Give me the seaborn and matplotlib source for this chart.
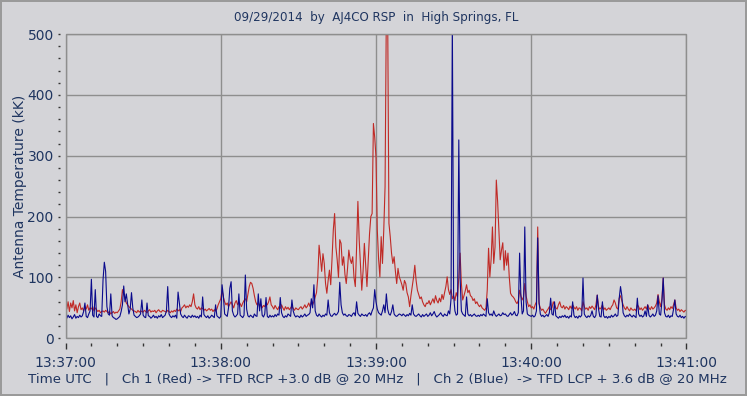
#!/usr/bin/env python3
"""
Radio Jupiter / solar burst record, AJ4CO RSP, 2014-09-29.
Two channel antenna temperature trace (RCP red, LCP blue), 13:37-13:41 UTC.
"""

import numpy as np
import pandas as pd
import matplotlib
matplotlib.use("Agg")
import matplotlib.pyplot as plt
from matplotlib.ticker import MultipleLocator, FuncFormatter
import seaborn as sns

# sample times, seconds after 13:37:00 UTC (half second steps)
t_sec = np.arange(0, 240.5, 0.5)

# Ch 1 (Red) -> TFD RCP, antenna temperature in kK
ch1_red = [
    55, 48, 60, 44, 58, 50, 62, 45, 55, 42, 52, 58, 47, 50, 45, 52, 48, 55, 46, 50,
    48, 52, 45, 50, 47, 44, 46, 42, 44, 45, 43, 46, 44, 42, 44, 40, 42, 44, 41, 43,
    42, 45, 48, 60, 80, 72, 65, 58, 55, 52, 50, 48, 46, 45, 44, 42, 46, 43, 45, 44,
    43, 46, 44, 42, 45, 47, 43, 45, 44, 46, 42, 45, 47, 44, 43, 46, 45, 44, 43, 46,
    44, 42, 45, 43, 46, 44, 48, 45, 47, 44, 50, 52, 55, 50, 53, 51, 55, 52, 60, 73,
    55, 50, 48, 52, 47, 50, 49, 46, 48, 45, 47, 49, 46, 48, 44, 47, 45, 48, 55, 60,
    65, 79, 68, 60, 55, 58, 52, 56, 60, 55, 50, 58, 62, 55, 60, 57, 52, 58, 62, 65,
    60, 72, 85, 92, 90, 82, 70, 60, 55, 58, 52, 56, 50, 54, 52, 58, 55, 60, 68, 55,
    52, 48, 54, 50, 47, 52, 49, 55, 50, 46, 52, 48, 51, 47, 50, 53, 49, 46, 50, 48,
    47, 50, 52, 48, 51, 55, 50, 53, 58, 52, 60, 55, 60, 68, 75, 100, 153, 133, 110, 139,
    123, 90, 74, 95, 112, 88, 130, 178, 205, 150, 129, 100, 162, 156, 120, 134, 105, 90, 115, 145,
    130, 123, 134, 100, 85, 150, 225, 162, 120, 79, 110, 156, 120, 85, 130, 172, 200, 205, 353, 330,
    298, 178, 130, 101, 167, 123, 178, 249, 540, 540, 189, 167, 140, 123, 134, 110, 90, 115, 101, 95,
    88, 79, 95, 90, 75, 68, 52, 70, 85, 100, 120, 95, 79, 72, 65, 68, 60, 55, 52, 58,
    57, 62, 55, 60, 65, 58, 70, 62, 58, 66, 60, 72, 64, 75, 85, 101, 80, 72, 80, 65,
    70, 62, 75, 68, 100, 140, 90, 63, 70, 78, 88, 75, 79, 70, 68, 62, 65, 57, 60, 55,
    52, 55, 50, 48, 46, 50, 80, 148, 101, 130, 183, 123, 150, 260, 225, 178, 129, 145, 157, 112,
    144, 120, 140, 101, 74, 70, 68, 65, 60, 57, 62, 79, 70, 63, 68, 90, 70, 60, 52, 55,
    50, 52, 48, 55, 60, 183, 57, 50, 46, 48, 44, 41, 45, 48, 52, 47, 50, 60, 55, 50,
    48, 55, 60, 52, 50, 54, 48, 52, 50, 47, 53, 49, 55, 51, 48, 52, 46, 50, 49, 45,
    60, 52, 48, 50, 46, 52, 49, 53, 50, 47, 55, 71, 52, 48, 50, 55, 47, 50, 46, 48,
    50, 47, 52, 55, 63, 58, 50, 48, 66, 70, 62, 55, 50, 47, 52, 48, 45, 50, 47, 46,
    48, 45, 55, 52, 47, 50, 46, 49, 52, 48, 55, 50, 47, 52, 48, 50, 53, 58, 72, 60,
    52, 65, 99, 55, 48, 46, 50, 47, 52, 49, 55, 63, 50, 46, 48, 44, 47, 45, 43, 46,
    45,
]

# Ch 2 (Blue) -> TFD LCP
ch2_blue = [
    36, 33, 38, 34, 37, 32, 35, 39, 33, 36, 34, 38, 35, 37, 44, 58, 36, 34, 40, 45,
    97, 38, 35, 80, 36, 34, 40, 37, 36, 96, 125, 110, 52, 40, 38, 73, 37, 34, 33, 31,
    32, 34, 36, 44, 55, 86, 60, 73, 57, 40, 48, 75, 50, 38, 36, 34, 35, 37, 40, 63,
    38, 35, 34, 58, 37, 36, 33, 35, 38, 34, 36, 33, 37, 35, 39, 34, 36, 38, 45, 85,
    40, 36, 34, 37, 35, 38, 33, 76, 58, 40, 36, 34, 38, 35, 33, 37, 36, 34, 38, 35,
    37, 34, 36, 33, 38, 35, 68, 39, 36, 34, 37, 33, 35, 38, 36, 34, 55, 37, 35, 33,
    36, 88, 70, 40, 38, 36, 50, 82, 93, 45, 38, 35, 37, 40, 73, 38, 36, 34, 38, 104,
    48, 37, 35, 38, 36, 34, 40, 37, 36, 73, 45, 65, 38, 35, 40, 67, 36, 34, 38, 35,
    37, 35, 39, 36, 40, 38, 67, 42, 36, 34, 37, 35, 40, 38, 36, 63, 45, 38, 35, 37,
    36, 34, 38, 35, 37, 40, 36, 38, 39, 42, 65, 50, 88, 45, 38, 36, 40, 37, 35, 38,
    36, 40, 38, 63, 42, 37, 36, 39, 41, 38, 40, 44, 92, 55, 42, 38, 40, 37, 36, 39,
    38, 36, 40, 42, 37, 60, 41, 38, 36, 40, 38, 37, 39, 36, 40, 42, 38, 45, 50, 80,
    60, 48, 42, 40, 38, 45, 55, 42, 73, 48, 40, 38, 44, 55, 40, 37, 36, 38, 40, 39,
    37, 40, 38, 36, 39, 37, 41, 38, 55, 40, 37, 36, 38, 40, 37, 35, 39, 36, 38, 40,
    36, 38, 42, 37, 40, 44, 38, 35, 37, 39, 42, 38, 36, 40, 38, 37, 45, 40, 65, 520,
    70, 45, 38, 40, 326, 100, 45, 40, 38, 36, 68, 40, 37, 39, 36, 38, 40, 37, 36, 38,
    36, 39, 37, 40, 38, 36, 65, 42, 38, 40, 37, 45, 39, 36, 38, 40, 37, 38, 42, 39,
    40, 37, 36, 39, 42, 38, 40, 44, 38, 37, 42, 140, 70, 40, 45, 183, 60, 40, 38, 37,
    36, 38, 35, 37, 45, 165, 60, 40, 36, 38, 35, 37, 39, 36, 42, 66, 40, 38, 60, 37,
    35, 33, 36, 34, 37, 35, 38, 34, 36, 33, 37, 35, 60, 38, 34, 36, 33, 37, 35, 38,
    99, 40, 36, 34, 37, 35, 38, 45, 36, 34, 38, 71, 48, 36, 35, 60, 37, 34, 36, 33,
    36, 34, 38, 35, 37, 40, 36, 38, 66, 85, 70, 42, 37, 35, 38, 36, 40, 37, 35, 38,
    36, 34, 66, 40, 36, 38, 35, 37, 45, 36, 55, 38, 35, 37, 40, 36, 38, 45, 70, 40,
    38, 60, 99, 42, 36, 35, 38, 34, 37, 36, 48, 63, 40, 36, 35, 38, 34, 36, 33, 36,
    35,
]

assert len(ch1_red) == len(t_sec) and len(ch2_blue) == len(t_sec)

BG = "#d4d4d8"
GRID = "#8e8e8e"
TXT = "#1f3560"
RED = "#c02a26"
BLUE = "#0a0a8c"

sns.set_style("white")
plt.rcParams.update({
    "font.family": ["DejaVu Sans"],
    "font.size": 10,
    "axes.facecolor": BG,
    "figure.facecolor": BG,
})

df = pd.DataFrame({
    "t": np.concatenate([t_sec, t_sec]),
    "temp": np.concatenate([ch1_red, ch2_blue]),
    "channel": ["Ch1"] * len(t_sec) + ["Ch2"] * len(t_sec),
})

fig = plt.figure(figsize=(7.47, 3.96), dpi=100)
ax = fig.add_axes([0.0877, 0.1457, 0.8313, 0.7684])

sns.lineplot(data=df, x="t", y="temp", hue="channel", hue_order=["Ch1", "Ch2"],
             palette={"Ch1": RED, "Ch2": BLUE}, estimator=None, legend=False,
             linewidth=0.8, ax=ax)

ax.set_xlim(0, 240)
ax.set_ylim(0, 500)
ax.xaxis.set_major_locator(MultipleLocator(60))
ax.xaxis.set_minor_locator(MultipleLocator(10))
ax.yaxis.set_major_locator(MultipleLocator(100))
ax.yaxis.set_minor_locator(MultipleLocator(20))
ax.xaxis.set_major_formatter(FuncFormatter(lambda v, p: f"13:{37 + int(v // 60):02d}:00"))

ax.grid(True, which="major", color=GRID, linewidth=1.0)
ax.set_axisbelow(True)

# ticks sit a little away from the plot box, like the original software
for side in ["top", "right"]:
    ax.spines[side].set_visible(False)
ax.spines["left"].set_position(("outward", 4))
ax.spines["bottom"].set_position(("outward", 3.2))
ax.spines["left"].set_color("none")
ax.spines["bottom"].set_color("none")
ax.add_patch(plt.Rectangle((0, 0), 1, 1, transform=ax.transAxes, fill=False,
                           edgecolor=GRID, linewidth=1.0, clip_on=False, zorder=5))

ax.tick_params(axis="y", which="both", direction="out", length=1.5, width=1,
               color="#333333", labelcolor=TXT, labelsize=10, pad=3, left=True)
ax.tick_params(axis="x", which="major", direction="out", length=4.3, width=1,
               color="#333333", labelcolor=TXT, labelsize=10, pad=5.5, bottom=True)
ax.tick_params(axis="x", which="minor", direction="out", length=2.2, width=1,
               color="#333333", bottom=True)

ax.set_xlabel("")
ax.set_ylabel("Antenna Temperature (kK)", color=TXT, fontsize=10)
ax.yaxis.set_label_coords(-0.062, 0.5)

fig.text(376 / 747, 1 - 18 / 396, "09/29/2014  by  AJ4CO RSP  in  High Springs, FL",
         ha="center", va="center", color=TXT, fontsize=8.6)
fig.text(377 / 747, 1 - 379 / 396,
         "Time UTC   |   Ch 1 (Red) -> TFD RCP +3.0 dB @ 20 MHz   |   "
         "Ch 2 (Blue)  -> TFD LCP + 3.6 dB @ 20 MHz",
         ha="center", va="center", color=TXT, fontsize=9.65)

fig.patch.set_edgecolor("#9a9a9a")
fig.patch.set_linewidth(1.5)

fig.savefig("out.png", dpi=100, facecolor=fig.get_facecolor(), edgecolor=fig.patch.get_edgecolor())
plt.close()
